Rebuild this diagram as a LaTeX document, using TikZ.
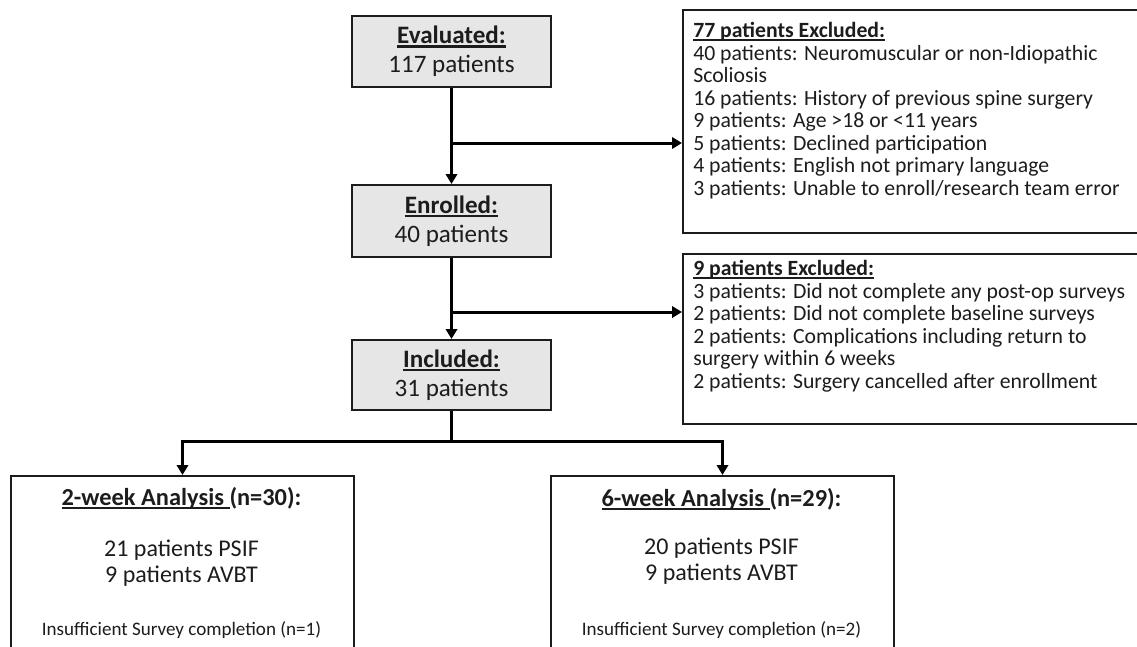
\documentclass[tikz,border=0pt]{standalone}
\usepackage{fontspec}
\setmainfont{Carlito}
\usetikzlibrary{arrows.meta}
\definecolor{boxgray}{HTML}{E6E6E6}
\definecolor{ink}{HTML}{1C1C1C}
\newcommand{\myul}[1]{\setbox0\hbox{#1}\rlap{\rule[-2.8pt]{\wd0}{1.6pt}}\box0}
\begin{document}
\begin{tikzpicture}[x=0.75pt,y=-0.75pt,
  mainbox/.style={draw=ink, line width=1.5pt, fill=boxgray, minimum width=149.25pt,
    minimum height=53.25pt, align=center, text=ink, inner sep=0pt,
    font=\fontsize{18.8}{21.75}\selectfont},
  exclbox/.style={draw=ink, line width=1.5pt, anchor=north west, minimum width=347.25pt, inner sep=0pt},
  excltext/.style={anchor=north west, align=left, inner sep=0pt, text=ink,
    font=\fontsize{16.3}{16.9}\selectfont},
  resbox/.style={draw=ink, line width=1.5pt, anchor=north west, minimum width=257.25pt,
    minimum height=135pt, inner sep=0pt},
  restitle/.style={text=ink, inner sep=0pt, font=\bfseries\fontsize{18.3}{21}\selectfont},
  restext/.style={text=ink, inner sep=0pt, align=center, font=\fontsize{18}{19.5}\selectfont},
  resnote/.style={text=ink, inner sep=0pt, font=\fontsize{14.3}{16}\selectfont},
  conn/.style={draw=black, line width=2.25pt},
  arr/.style={conn, -{Triangle[length=7.5pt,width=8.5pt]}}]
\useasboundingbox (0,0) rectangle (1137,646);
\clip (0,0) rectangle (1137,646);

% main boxes
\node[mainbox] (eval) at (451.5,51.5) {\myul{\textbf{Evaluated:}}\\117 patients};
\node[mainbox, minimum height=54pt] (enroll) at (451.5,221) {\myul{\textbf{Enrolled:}}\\40 patients};
\node[mainbox, minimum height=52.5pt] (incl) at (451.5,375) {\myul{\textbf{Included:}}\\31 patients};

% exclusion boxes
\node[exclbox, minimum height=167.25pt] (excl1) at (682,9) {};
\node[excltext] (excl1t) at (693,22) {\myul{\textbf{77 patients Excluded:}}\\
40 patients: Neuromuscular or non-Idiopathic\\
Scoliosis\\
16 patients: History of previous spine surgery\\
9 patients: Age >18 or <11 years\\
5 patients: Declined participation\\
4 patients: English not primary language\\
3 patients: Unable to enroll/research team error};

\node[exclbox, minimum height=127.5pt] (excl2) at (682,253) {};
\node[excltext] (excl2t) at (693,260) {\myul{\textbf{9 patients Excluded:}}\\
3 patients: Did not complete any post-op surveys\\
2 patients: Did not complete baseline surveys\\
2 patients: Complications including return to\\
surgery within 6 weeks\\
2 patients: Surgery cancelled after enrollment};

% result boxes
\node[resbox] (two) at (10,475) {};
\node[restitle] (twot) at (181.5,498) {\myul{2-week Analysis\ }(n=30):};
\node[restext] (twoc) at (181.5,563) {21 patients PSIF\\9 patients AVBT};
\node[resnote] (twon) at (181.5,630) {Insufficient Survey completion (n=1)};

\node[resbox] (six) at (550,475) {};
\node[restitle] (sixt) at (721.5,499) {\myul{6-week Analysis\ }(n=29):};
\node[restext] (sixc) at (721.5,561) {20 patients PSIF\\9 patients AVBT};
\node[resnote] (sixn) at (721.5,630) {Insufficient Survey completion (n=2)};

% connectors
\coordinate (b1) at (451.5,143);
\coordinate (b2) at (451.5,312);
\coordinate (j) at (451.5,441);
\draw[arr] (eval) -- (enroll);
\draw[arr] (b1) -- (b1 -| excl1.west);
\draw[arr] (enroll) -- (incl);
\draw[arr] (b2) -- (b2 -| excl2.west);
\draw[conn] (incl) -- (j);
\draw[arr] (j) -| (two.north);
\draw[arr] (j) -| (six.north);
\end{tikzpicture}
\end{document}
